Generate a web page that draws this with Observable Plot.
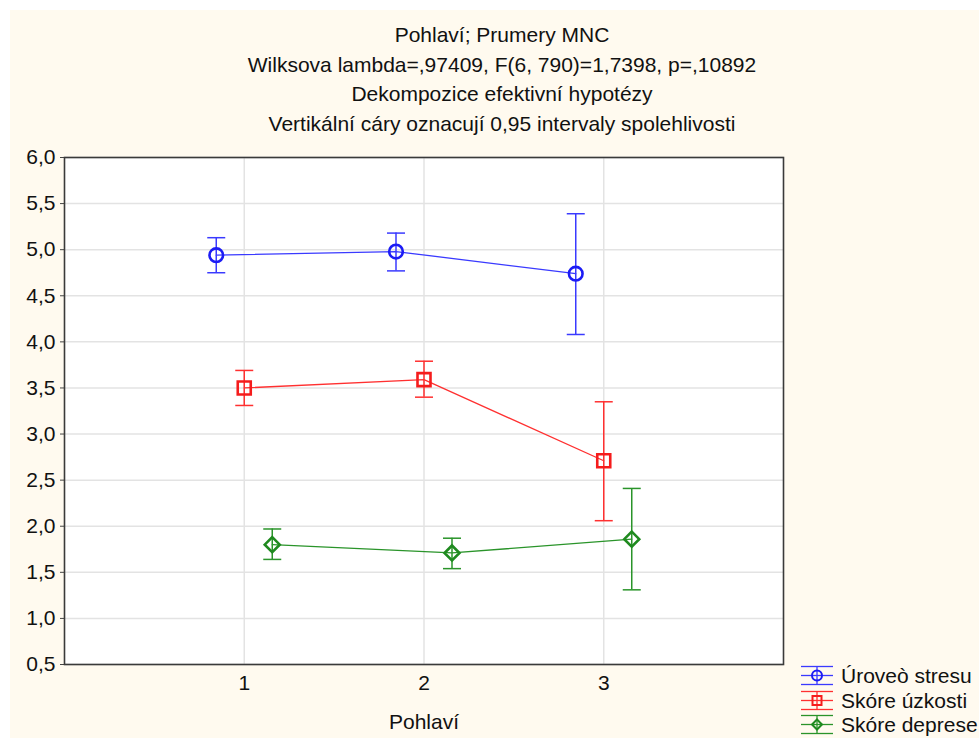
<!DOCTYPE html>
<html>
<head>
<meta charset="utf-8">
<script src="https://cdn.jsdelivr.net/npm/d3@7"></script>
<script src="https://cdn.jsdelivr.net/npm/@observablehq/plot@0.6"></script>
<style>
  body { margin: 0; background: #ffffff; font-family: "Liberation Sans", Arial, sans-serif; }
  #wrap { position: relative; width: 979px; height: 738px; overflow: hidden; }
  #chart { position: absolute; left: 10px; top: 10px; }
  #titles { position: absolute; left: 20px; width: 964px; top: 20px; text-align: center; font-size: 21px; line-height: 29.7px; color: #111; }
  #legend { position: absolute; left: 800px; top: 664px; font-size: 21px; color: #111; white-space: nowrap; }
  .row { display: flex; align-items: center; height: 24.5px; }
  .row svg { margin-right: 7px; flex: none; }
</style>
</head>
<body>
<div id="wrap">
  <div id="chart"></div>
  <div id="titles"></div>
  <div id="legend"></div>
</div>
<script>
// ---- data ----
const titleLines = [
  "Pohlaví; Prumery MNC",
  "Wilksova lambda=,97409, F(6, 790)=1,7398, p=,10892",
  "Dekompozice efektivní hypotézy",
  "Vertikální cáry oznacují 0,95 intervaly spolehlivosti"
];
const xLabel = "Pohlaví";
const groups = [1, 2, 3];
const seriesNames = ["Úroveò stresu", "Skóre úzkosti", "Skóre deprese"];
const stresMean = [4.94, 4.98, 4.74];
const stresLow  = [4.75, 4.77, 4.08];
const stresHigh = [5.13, 5.18, 5.39];
const uzkostMean = [3.50, 3.59, 2.71];
const uzkostLow  = [3.31, 3.40, 2.06];
const uzkostHigh = [3.69, 3.79, 3.35];
const depreseMean = [1.80, 1.71, 1.86];
const depreseLow  = [1.64, 1.54, 1.31];
const depreseHigh = [1.97, 1.87, 2.41];
const yTicks = [0.5, 1.0, 1.5, 2.0, 2.5, 3.0, 3.5, 4.0, 4.5, 5.0, 5.5, 6.0];
const xTicks = [1, 2, 3];

// ---- styling ----
const colors = ["#1c1cf5", "#f51c1c", "#1f8a1f"];
const lineColors = ["#3a3aff", "#ff3030", "#2a942a"];
const dxs = [-28, 0, 28];

const symFromR = (size) => Math.sqrt(size / Math.PI);
const capSym = { draw(ctx, size) { const r = symFromR(size); ctx.moveTo(-r, 0); ctx.lineTo(r, 0); } };
const circleSym = { draw(ctx, size) { const r = symFromR(size); ctx.moveTo(r, 0); ctx.arc(0, 0, r, 0, 2 * Math.PI); } };
const squareSym = { draw(ctx, size) { const r = symFromR(size); ctx.rect(-r, -r, 2 * r, 2 * r); } };
const diamondSym = { draw(ctx, size) { const r = symFromR(size); ctx.moveTo(0, -r); ctx.lineTo(r, 0); ctx.lineTo(0, r); ctx.lineTo(-r, 0); ctx.closePath(); } };
const markers = [circleSym, squareSym, diamondSym];
const markerR = [6.8, 6.5, 7.5];

const seriesData = [
  [stresMean, stresLow, stresHigh],
  [uzkostMean, uzkostLow, uzkostHigh],
  [depreseMean, depreseLow, depreseHigh]
].map(([m, lo, hi], s) => groups.map((g, i) => ({ x: g, y: m[i], lo: lo[i], hi: hi[i], s })));

const fmt = d => d.toFixed(1).replace(".", ",");

const marks = [
  Plot.frame({ fill: "white", stroke: null }),
  Plot.gridY(yTicks, { stroke: "#e3e3e3", strokeOpacity: 1, strokeWidth: 1.5 }),
  Plot.gridX(xTicks, { stroke: "#e3e3e3", strokeOpacity: 1, strokeWidth: 1.5 }),
  Plot.axisY(yTicks, { tickFormat: fmt, tickSize: 4, tickPadding: 5, fontSize: 21, fill: "#111", stroke: "#444", label: null }),
  Plot.axisX(xTicks, { tickFormat: d => String(d), tickSize: 0, tickPadding: 11, fontSize: 21, fill: "#111", label: null }),
  Plot.axisX({ ticks: [], label: xLabel, labelAnchor: "center", labelArrow: "none", labelOffset: 64, fontSize: 21, fill: "#111", tickSize: 0 })
];
seriesData.forEach((data, s) => {
  marks.push(
    Plot.line(data, { x: "x", y: "y", dx: dxs[s], stroke: lineColors[s], strokeWidth: 1.3 }),
    Plot.ruleX(data, { x: "x", y1: "lo", y2: "hi", dx: dxs[s], stroke: lineColors[s], strokeWidth: 1.5 }),
    Plot.dot(data, { x: "x", y: "lo", dx: dxs[s], symbol: capSym, r: 9, stroke: lineColors[s], strokeWidth: 1.5, fill: "none" }),
    Plot.dot(data, { x: "x", y: "hi", dx: dxs[s], symbol: capSym, r: 9, stroke: lineColors[s], strokeWidth: 1.5, fill: "none" }),
    Plot.dot(data, { x: "x", y: "y", dx: dxs[s], symbol: markers[s], r: markerR[s], stroke: colors[s], strokeWidth: 2.6, fill: "none" })
  );
});
marks.push(Plot.frame({ stroke: "#3a3a3a", strokeWidth: 1.6 }));

const chart = Plot.plot({
  width: 969,
  height: 728,
  marginLeft: 54,
  marginTop: 147,
  marginRight: 196,
  marginBottom: 74,
  style: { background: "#fffaef", fontFamily: "'Liberation Sans', Arial, sans-serif", fontSize: "21px", overflow: "visible" },
  x: { domain: [0, 4] },
  y: { domain: [0.5, 6] },
  marks
});
document.getElementById("chart").appendChild(chart);

// titles
const t = document.getElementById("titles");
titleLines.forEach(l => { const d = document.createElement("div"); d.textContent = l; t.appendChild(d); });

// legend
const lg = document.getElementById("legend");
const iconPaths = [
  '<circle cx="17" cy="10.5" r="5" fill="none" stroke-width="2"/>',
  '<rect x="12.5" y="6" width="9" height="9" fill="none" stroke-width="2"/>',
  '<path d="M17 5.5 L22 10.5 L17 15.5 L12 10.5 Z" fill="none" stroke-width="2"/>'
];
seriesNames.forEach((name, s) => {
  const row = document.createElement("div");
  row.className = "row";
  row.innerHTML = `<svg width="34" height="22" stroke="${colors[s]}">
    <line x1="1" x2="33" y1="1.5" y2="1.5" stroke="${lineColors[s]}" stroke-width="1.3"/>
    <line x1="1" x2="33" y1="10.5" y2="10.5" stroke="${lineColors[s]}" stroke-width="1.3"/>
    <line x1="1" x2="33" y1="19.5" y2="19.5" stroke="${lineColors[s]}" stroke-width="1.3"/>
    <line x1="17" x2="17" y1="1.5" y2="19.5" stroke="${lineColors[s]}" stroke-width="1.3"/>
    ${iconPaths[s]}
  </svg><span>${name}</span>`;
  lg.appendChild(row);
});
</script>
</body>
</html>
